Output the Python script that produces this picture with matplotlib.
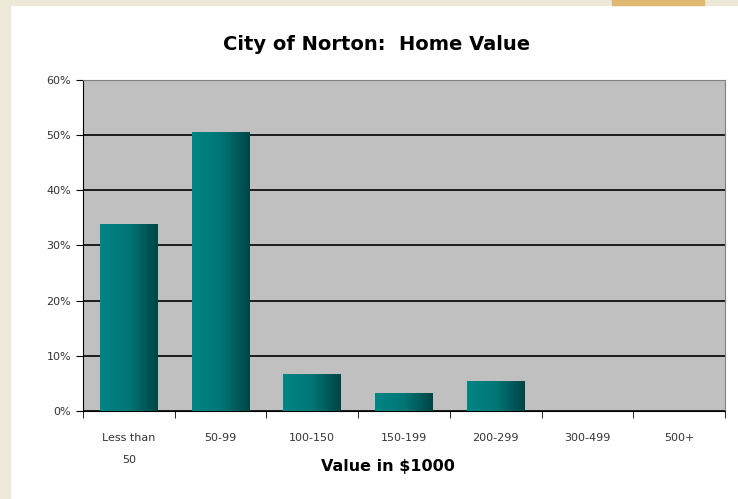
import numpy as np
import matplotlib.pyplot as plt
from matplotlib.patches import Rectangle
from matplotlib.colors import LinearSegmentedColormap

# data
categories = ['Less than\n50', '50-99', '100-150', '150-199', '200-299', '300-499', '500+']
shares = [33.9, 50.5, 6.7, 3.3, 5.4, 0.0, 0.0]
y_ticks = [0, 10, 20, 30, 40, 50, 60]

fig = plt.figure(figsize=(7.38, 4.99), dpi=100)
fig.patch.set_facecolor('white')
# beige page edge on the left/top, like the screenshot
fig.patches.append(Rectangle((0, 0), 10 / 738, 1, transform=fig.transFigure,
                             color='#ece9d8', zorder=0))
fig.patches.append(Rectangle((0, 1 - 5 / 499), 1, 5 / 499, transform=fig.transFigure,
                             color='#ece9d8', zorder=0))
fig.patches.append(Rectangle((612 / 738, 1 - 5 / 499), 92 / 738, 5 / 499,
                             transform=fig.transFigure, color='#e0b870', zorder=1))

ax = fig.add_axes([83 / 738, 88 / 499, 642 / 738, 331 / 499])
ax.set_facecolor('#c0c0c0')

x = np.arange(len(categories))
bars = ax.bar(x, shares, width=0.63, color='#007070', zorder=3)

# horizontal teal gradient inside each bar
grad = np.linspace(0, 1, 256).reshape(1, -1)
cmap = LinearSegmentedColormap.from_list('teal', ['#008585', '#007575', '#004545'])
for b in bars:
    if b.get_height() <= 0:
        continue
    x0, w, h = b.get_x(), b.get_width(), b.get_height()
    im = ax.imshow(grad, cmap=cmap, extent=[x0, x0 + w, 0, h], aspect='auto', zorder=3)
    im.set_clip_path(b)
    b.set_facecolor('none')

ax.set_xlim(-0.5, len(categories) - 0.5)
ax.set_ylim(0, 60)
ax.set_yticks(y_ticks)
ax.set_yticklabels([f'{v}%' for v in y_ticks], fontsize=8, color='#333333')
ax.yaxis.grid(True, color='black', linewidth=1.2, zorder=1)
ax.set_axisbelow(True)

ax.set_xticks(x)
ax.set_xticklabels(categories, fontsize=8, color='#333333', linespacing=2.5)
ax.set_xticks(np.arange(len(categories) + 1) - 0.5, minor=True)
ax.tick_params(axis='x', which='major', length=0, pad=16)
ax.tick_params(axis='x', which='minor', length=5, direction='out', color='black')
ax.tick_params(axis='y', length=5, direction='out', color='black')

for s in ['top', 'right']:
    ax.spines[s].set_color('#808080')
ax.spines['left'].set_color('black')
ax.spines['bottom'].set_color('black')

fig.text(0.51, 1 - 45 / 499, 'City of Norton:  Home Value', ha='center', va='center',
         fontsize=14, fontweight='bold')
fig.text(0.525, 1 - 467 / 499, 'Value in $1000', ha='center', va='center',
         fontsize=11.5, fontweight='bold')

fig.savefig('out.png', dpi=100)
